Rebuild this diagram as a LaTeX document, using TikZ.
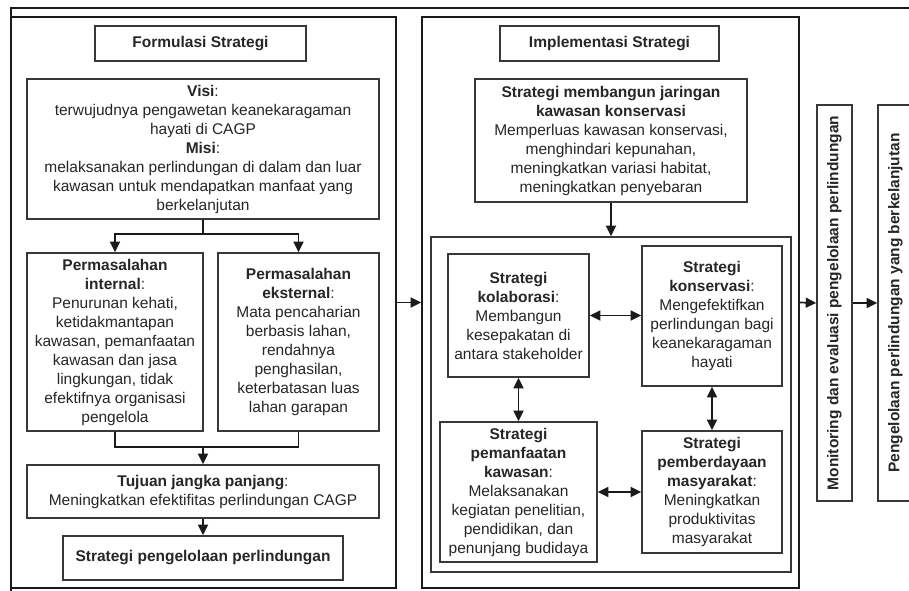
\documentclass[tikz,border=0pt]{standalone}
\usepackage{fontspec}
\setmainfont{Liberation Sans}
\usetikzlibrary{arrows.meta}
\definecolor{txt}{HTML}{262626}
\definecolor{boxline}{HTML}{383838}
\definecolor{panelline}{HTML}{1A1A1A}
\tikzset{
  x=1pt, y=-1pt,
  box/.style={draw=boxline, line width=1.6pt, fill=white, inner sep=0pt, align=center,
    text=txt, font=\fontsize{15.5}{19}\selectfont},
  panel/.style={draw=panelline, line width=1.7pt, inner sep=0pt},
  conn/.style={draw=panelline, line width=1.7pt},
  arr/.style={conn, -{Triangle[length=10.5pt,width=10pt]}},
  darr/.style={conn, {Triangle[length=10.5pt,width=10pt]}-{Triangle[length=10.5pt,width=10pt]}},
}
\begin{document}
\begin{tikzpicture}
\clip (0,0) rectangle (909,590);
\fill[white] (0,0) rectangle (909,590);
% outer frame remnant
\coordinate (fa) at (11,592);
\coordinate (fb) at (11,8);
\coordinate (fc) at (912,8);
\draw[conn] (fa) -- (fb) -- (fc);

% panels
\node[panel, minimum width=385pt, minimum height=571pt] (lp) at (203.5,302.5) {};
\node[panel, minimum width=377pt, minimum height=571pt] (ip) at (610.5,302.5) {};
\node[panel, draw=boxline, line width=1.6pt, minimum width=360pt, minimum height=335pt] (inner) at (611,404.5) {};

% left panel boxes
\node[box, minimum width=211pt, minimum height=35pt] (form) at (200.5,43.5) {\textbf{Formulasi Strategi}};
\node[box, minimum width=352pt, minimum height=140pt] (visi) at (203,149)
  {\textbf{Visi}:\\terwujudnya pengawetan keanekaragaman\\hayati di CAGP\\\textbf{Misi}:\\melaksanakan perlindungan di dalam dan luar\\kawasan untuk mendapatkan manfaat yang\\berkelanjutan};
\node[box, minimum width=176pt, minimum height=178pt] (intern) at (115,342)
  {\textbf{Permasalahan}\\\textbf{internal}:\\Penurunan kehati,\\ketidakmantapan\\kawasan, pemanfaatan\\kawasan dan jasa\\lingkungan, tidak\\efektifnya organisasi\\pengelola};
\node[box, minimum width=161pt, minimum height=178pt] (ekstern) at (298.5,342)
  {\textbf{Permasalahan}\\\textbf{eksternal}:\\Mata pencaharian\\berbasis lahan,\\rendahnya\\penghasilan,\\keterbatasan luas\\lahan garapan};
\node[box, minimum width=352pt, minimum height=53pt] (tujuan) at (203,491.5)
  {\textbf{Tujuan jangka panjang}:\\Meningkatkan efektifitas perlindungan CAGP};
\node[box, minimum width=280pt, minimum height=44pt] (strat) at (203,558)
  {\textbf{Strategi pengelolaan perlindungan}};

% implementation boxes
\node[box, minimum width=219pt, minimum height=35pt] (implhead) at (609.5,43.5) {\textbf{Implementasi Strategi}};
\node[box, minimum width=272pt, minimum height=123pt] (jaringan) at (611,140.5)
  {\textbf{Strategi membangun jaringan}\\\textbf{kawasan konservasi}\\Memperluas kawasan konservasi,\\menghindari kepunahan,\\meningkatkan variasi habitat,\\meningkatkan penyebaran};
\node[box, minimum width=141pt, minimum height=123pt] (kolab) at (518.5,315.5)
  {\textbf{Strategi}\\\textbf{kolaborasi}:\\Membangun\\kesepakatan di\\antara stakeholder};
\node[box, minimum width=140pt, minimum height=140pt] (konserv) at (712,316)
  {\textbf{Strategi}\\\textbf{konservasi}:\\Mengefektifkan\\perlindungan bagi\\keanekaragaman\\hayati};
\node[box, minimum width=157pt, minimum height=140pt] (pemanf) at (518.5,492)
  {\textbf{Strategi}\\\textbf{pemanfaatan}\\\textbf{kawasan}:\\Melaksanakan\\kegiatan penelitian,\\pendidikan, dan\\penunjang budidaya};
\node[box, minimum width=140pt, minimum height=122pt] (pember) at (712,492)
  {\textbf{Strategi}\\\textbf{pemberdayaan}\\\textbf{masyarakat}:\\Meningkatkan\\produktivitas\\masyarakat};

% right column
\node[box, minimum width=396pt, minimum height=35pt, rotate=90] (monitor) at (834.5,303)
  {\textbf{Monitoring dan evaluasi pengelolaan perlindungan}};
\node[box, minimum width=396pt, minimum height=35pt, rotate=90] (pengel) at (895.5,303)
  {\textbf{Pengelolaan perlindungan yang berkelanjutan}};

% connectors left panel
\coordinate (vs) at (203,234);
\coordinate (jn) at (203,447);
\draw[conn] (visi.south) -- (vs);
\draw[arr] (vs) -| (intern.north);
\draw[arr] (vs) -| (ekstern.north);
\draw[conn] (intern.south) |- (jn) -| (ekstern.south);
\draw[arr] (jn) -- (tujuan.north);
\draw[arr] (tujuan.south) -- (strat.north);

% between panels
\draw[arr] (lp.east) -- (ip.west);
\draw[arr] (jaringan.south) -- (inner.north);
\draw[darr] (kolab.east) -- (kolab.east -| konserv.west);
\draw[darr] (kolab.south) -- (pemanf.north);
\draw[darr] (konserv.south) -- (pember.north);
\draw[darr] (pemanf.east) -- (pemanf.east -| pember.west);
\draw[arr] (ip.east) -- (monitor.north);
\draw[arr] (monitor.south) -- (pengel.north);
\end{tikzpicture}
\end{document}
